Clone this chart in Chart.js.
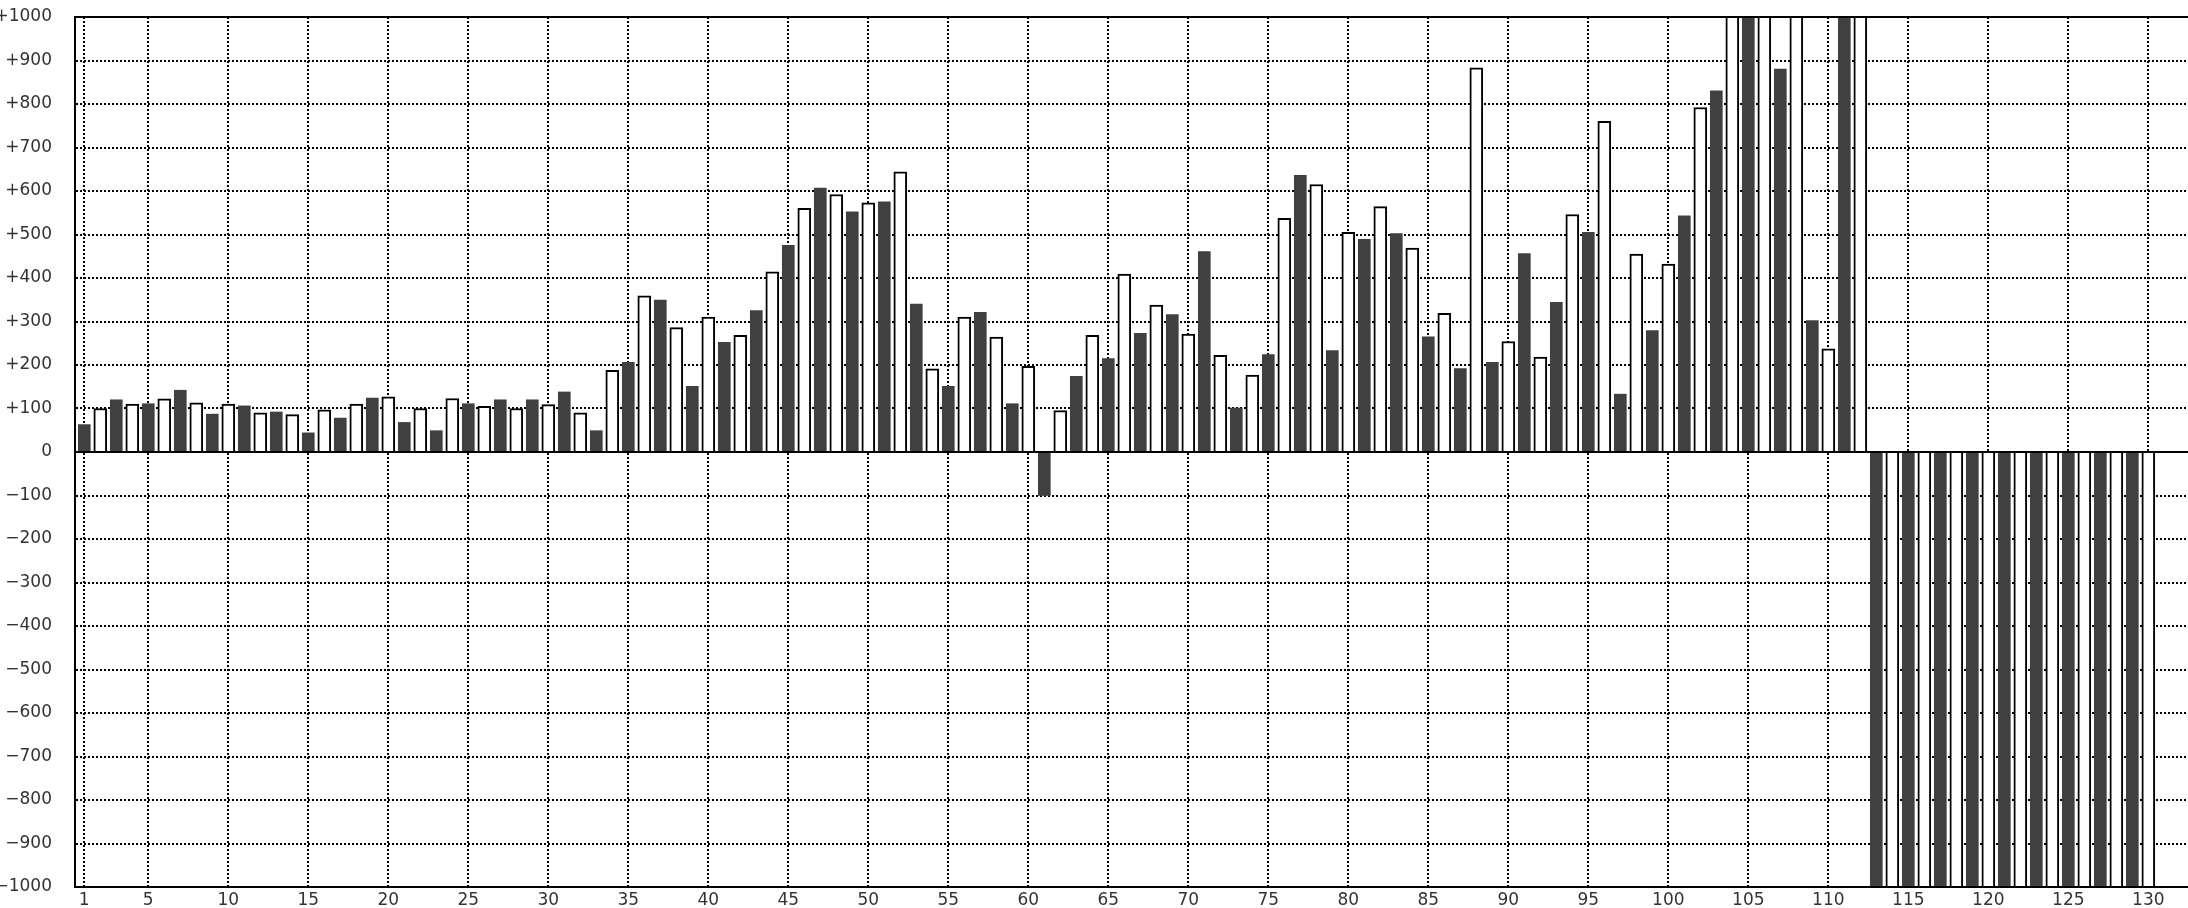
<!DOCTYPE html>
<html><head><meta charset="utf-8">
<script src="https://cdn.jsdelivr.net/npm/chart.js@4.4.1/dist/chart.umd.min.js"></script>
<style>html,body{margin:0;padding:0;background:#fff;overflow:hidden}canvas{display:block}</style>
</head><body>
<canvas id="c" width="2188" height="908" style="width:2188px;height:908px"></canvas>
<script>
// Categories: odd numbers carry the dark series, even numbers the white series
const darkCategories = Array.from({length: 65}, (_, i) => 2 * i + 1);
const whiteCategories = Array.from({length: 65}, (_, i) => 2 * i + 2);

// Dark series values (categories 1,3,5,...,129)
const darkValues = [
  63, 120, 111, 142, 87, 106, 92, 44, 78, 124,
  68, 49, 111, 120, 120, 138, 49, 206, 349, 151,
  252, 325, 475, 607, 552, 575, 340, 151, 321, 111,
  -100, 174, 215, 273, 316, 461, 101, 224, 636, 233,
  489, 502, 265, 192, 206, 456, 344, 505, 133, 279,
  543, 830, 1100, 880, 302, 1100,
  -1100, -1100, -1100, -1100, -1100, -1100, -1100, -1100, -1100
];

// White series values (categories 2,4,6,...,130)
const whiteValues = [
  100, 110, 122, 113, 110, 90, 86, 97, 110, 127,
  100, 123, 105, 100, 109, 90, 188, 359, 286, 310,
  268, 414, 560, 592, 573, 644, 191, 310, 264, 197,
  95, 268, 409, 338, 271, 222, 177, 537, 615, 505,
  564, 469, 319, 883, 254, 218, 546, 760, 455, 432,
  792, 1100, 1100, 1100, 237, 1100,
  -1100, -1100, -1100, -1100, -1100, -1100, -1100, -1100, -1100
];

// X tick labels
const xTickLabels = [1, 5, 10, 15, 20, 25, 30, 35, 40, 45, 50, 55, 60, 65, 70, 75, 80, 85, 90, 95, 100, 105, 110, 115, 120, 125, 130];
// Y axis range / tick step
const yMin = -1000, yMax = 1000, yStep = 100;

const toPoints = (cats, vals) => cats.map((c, i) => ({x: c, y: vals[i]}));

const framePlugin = {
  id: 'frame',
  afterDatasetsDraw(chart) {
    const {ctx, chartArea: a, scales: {y}} = chart;
    ctx.save();
    ctx.strokeStyle = '#000';
    ctx.lineWidth = 2;
    const y0 = Math.round(y.getPixelForValue(0));
    ctx.beginPath();
    ctx.moveTo(a.left, y0); ctx.lineTo(a.right, y0);
    ctx.moveTo(a.left - 1, Math.round(a.top)); ctx.lineTo(a.right, Math.round(a.top));
    ctx.moveTo(a.left - 1, Math.round(a.bottom)); ctx.lineTo(a.right, Math.round(a.bottom));
    ctx.moveTo(Math.round(a.left), a.top); ctx.lineTo(Math.round(a.left), a.bottom);
    ctx.stroke();
    ctx.restore();
  }
};

const font = {family: '"DejaVu Sans", sans-serif', size: 17};

new Chart(document.getElementById('c'), {
  type: 'bar',
  data: {
    datasets: [
      {
        label: 'dark',
        data: toPoints(darkCategories, darkValues),
        backgroundColor: '#404040',
        borderWidth: 0,
        barThickness: 12,
        clip: 0
      },
      {
        label: 'white',
        data: toPoints(whiteCategories, whiteValues),
        backgroundColor: '#ffffff',
        borderColor: '#000000',
        borderWidth: 2,
        barThickness: 13,
        clip: 0
      }
    ]
  },
  options: {
    responsive: false,
    devicePixelRatio: 1,
    animation: false,
    grouped: false,
    layout: {padding: {top: 17, right: 0, bottom: 0, left: 0}},
    plugins: {legend: {display: false}, tooltip: {enabled: false}},
    scales: {
      x: {
        type: 'linear',
        min: 0.42,
        max: 132.48,
        offset: false,
        afterBuildTicks: (s) => { s.ticks = xTickLabels.map(v => ({value: v})); },
        afterFit: (s) => { s.height = 21; s.paddingLeft = 0; s.paddingRight = 0; },
        ticks: {
          font, color: '#333', padding: 3, maxRotation: 0, autoSkip: false,
          callback: (v) => String(v)
        },
        grid: {offset: false, color: '#000', lineWidth: 2, drawTicks: false},
        border: {display: true, color: '#000', width: 2, dash: [2, 2]}
      },
      y: {
        type: 'linear',
        min: yMin,
        max: yMax,
        afterFit: (s) => { s.width = 75; s.paddingTop = 0; s.paddingBottom = 0; },
        ticks: {
          stepSize: yStep,
          font, color: '#333', padding: 23,
          callback: (v) => v > 0 ? '+' + v : (v < 0 ? '\u2212' + (-v) : '0')
        },
        grid: {color: '#000', lineWidth: 2, drawTicks: false},
        border: {display: true, color: '#000', width: 2, dash: [2, 2]}
      }
    }
  },
  plugins: [framePlugin]
});
</script>
</body></html>
